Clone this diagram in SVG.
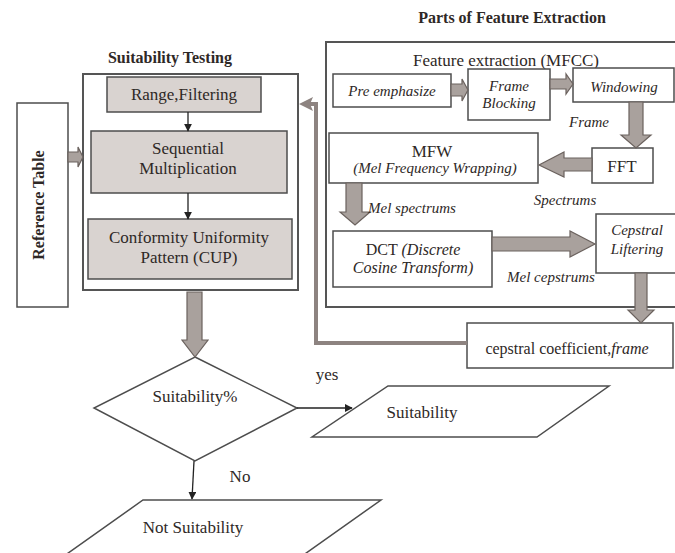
<svg xmlns="http://www.w3.org/2000/svg" width="675" height="553" viewBox="0 0 675 553" font-family="'Liberation Serif', 'DejaVu Serif', serif">
  <style>
    .box { fill: #ffffff; stroke: #4d4d4d; stroke-width: 1.5; }
    .gbox { fill: #d9d3d0; stroke: #4d4d4d; stroke-width: 1.5; }
    .frame { fill: #ffffff; stroke: #555555; stroke-width: 2; }
    .blk { fill: #a9a19d; stroke: #6b625e; stroke-width: 1.2; }
    .ln { fill: none; stroke: #222222; stroke-width: 1.3; }
    .fb { fill: none; stroke: #8d8380; stroke-width: 4; }
    .fbh { fill: #8d8380; }
    text { font-family: 'Liberation Serif', serif; fill: #2e2826; text-anchor: middle; }
    .t { font-size: 17px; }
    .tb { font-size: 16px; font-weight: bold; }
    .it { font-size: 15px; font-style: italic; }
  </style>
  <defs>
    <marker id="ah" viewBox="0 0 10 10" refX="9" refY="5" markerWidth="8" markerHeight="8" markerUnits="userSpaceOnUse" orient="auto">
      <path d="M0,0 L10,5 L0,10 z" fill="#222222"/>
    </marker>
  </defs>

  <!-- section titles -->
  <text class="tb" x="170" y="63">Suitability Testing</text>
  <text class="tb" x="512" y="23">Parts of Feature Extraction</text>

  <!-- container frames -->
  <g id="suitability-testing">
    <rect class="frame" x="83" y="74" width="215" height="216"/>
  </g>
  <g id="feature-extraction">
    <rect class="frame" x="326" y="42" width="360" height="265"/>
    <text class="t" x="506" y="66">Feature extraction (MFCC)</text>
  </g>

  <!-- left column -->
  <g id="reference-table">
    <rect class="box" x="17" y="103" width="51" height="204"/>
    <text class="tb" transform="translate(44,205) rotate(-90)">Reference Table</text>
  </g>
  <g id="range-filtering">
    <rect class="gbox" x="107" y="77" width="154" height="35"/>
    <text class="t" x="184" y="100">Range,Filtering</text>
  </g>
  <g id="sequential-multiplication">
    <rect class="gbox" x="91" y="131" width="196" height="62"/>
    <text class="t" x="188" y="154">Sequential</text>
    <text class="t" x="188" y="174">Multiplication</text>
  </g>
  <g id="cup">
    <rect class="gbox" x="88" y="219" width="204" height="60"/>
    <text class="t" x="189" y="243">Conformity Uniformity</text>
    <text class="t" x="189" y="263">Pattern (CUP)</text>
  </g>

  <g id="suitability-decision">
    <polygon class="box" points="195,357 297,408 195,461 94,408"/>
    <text class="t" x="195" y="402">Suitability%</text>
  </g>
  <g id="suitability">
    <polygon class="box" points="388,386 609,386 537,437 312,437"/>
    <text class="t" x="422" y="418">Suitability</text>
  </g>
  <g id="not-suitability">
    <polygon class="box" points="143,500 381,500 302,556 64,556"/>
    <text class="t" x="193" y="533">Not Suitability</text>
  </g>

  <!-- MFCC stages -->
  <g id="pre-emphasize">
    <rect class="box" x="333" y="74" width="118" height="33"/>
    <text class="it" x="392" y="96">Pre emphasize</text>
  </g>
  <g id="frame-blocking">
    <rect class="box" x="468" y="69" width="82" height="51"/>
    <text class="it" x="509" y="91">Frame</text>
    <text class="it" x="509" y="108">Blocking</text>
  </g>
  <g id="windowing">
    <rect class="box" x="573" y="68" width="101" height="34"/>
    <text class="it" x="624" y="92">Windowing</text>
  </g>
  <g id="fft">
    <rect class="box" x="592" y="148" width="61" height="35"/>
    <text class="t" x="622" y="172">FFT</text>
  </g>
  <g id="mfw">
    <rect class="box" x="329" y="133" width="209" height="50"/>
    <text class="t" x="432" y="157">MFW</text>
    <text class="it" x="435" y="173">(Mel Frequency Wrapping)</text>
  </g>
  <g id="dct">
    <rect class="box" x="333" y="231" width="159" height="56"/>
    <text x="413" y="255" style="font-size:16px">DCT <tspan font-style="italic">(Discrete</tspan></text>
    <text class="it" x="413" y="273" style="font-size:16px">Cosine Transform)</text>
  </g>
  <g id="cepstral-liftering">
    <rect class="box" x="596" y="214" width="82" height="59"/>
    <text class="it" x="637" y="235">Cepstral</text>
    <text class="it" x="637" y="254">Liftering</text>
  </g>
  <g id="cepstral-coefficient">
    <rect class="box" x="467" y="323" width="206" height="45"/>
    <text x="567" y="354" style="font-size:16px">cepstral coefficient,<tspan font-style="italic">frame</tspan></text>
  </g>

  <!-- connectors -->
  <g id="connectors">
    <!-- thin arrows -->
    <line class="ln" x1="188" y1="112" x2="188" y2="131" marker-end="url(#ah)"/>
    <line class="ln" x1="188" y1="193" x2="188" y2="219" marker-end="url(#ah)"/>
    <line class="ln" x1="297" y1="408" x2="352" y2="408" marker-end="url(#ah)"/>
    <line class="ln" x1="194" y1="461" x2="192" y2="499" marker-end="url(#ah)"/>

    <!-- block arrows -->
    <polygon class="blk" points="68,152 78,152 78,147 83,157 78,167 78,162 68,162"/>
    <polygon class="blk" points="187,292 202,292 202,340 208,340 195,357 182,340 187,340"/>
    <polygon class="blk" points="451,84 462,84 462,79 468,90 462,101 462,96 451,96"/>
    <polygon class="blk" points="550,79 566,79 566,74 573,84 566,94 566,89 550,89"/>
    <polygon class="blk" points="629,102 643,102 643,135 651,135 636,148 621,135 629,135"/>
    <polygon class="blk" points="592,158 564,158 564,152 539,165 564,177 564,171 592,171"/>
    <polygon class="blk" points="346,183 362,183 362,212 370,212 355,225 340,212 346,212"/>
    <polygon class="blk" points="492,237 570,237 570,231 595,244 570,257 570,251 492,251"/>
    <polygon class="blk" points="635,273 647,273 647,310 654,310 641,323 628,310 635,310"/>

    <!-- feedback from cepstral coefficients -->
    <polyline class="fb" points="467,343 316,343 316,104 310,104"/>
    <polygon class="fbh" points="299,104 313,97 310,104 313,111"/>
  </g>

  <!-- connector labels -->
  <text class="it" x="589" y="127">Frame</text>
  <text class="it" x="565" y="205">Spectrums</text>
  <text class="it" x="412" y="213">Mel spectrums</text>
  <text class="it" x="551" y="282">Mel cepstrums</text>
  <text class="t" x="327" y="380">yes</text>
  <text class="t" x="240" y="482">No</text>
</svg>
